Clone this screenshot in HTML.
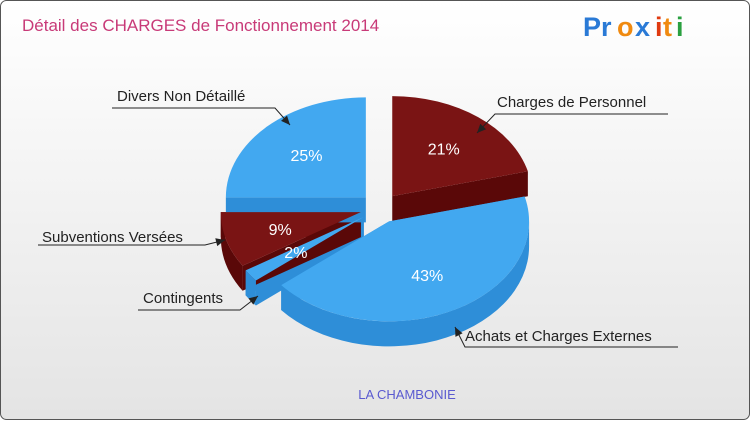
<!DOCTYPE html>
<html><head><meta charset="utf-8"><style>
body{margin:0;width:750px;height:420px;overflow:hidden;font-family:"Liberation Sans",sans-serif}
</style></head><body>
<svg width="750" height="420" xmlns="http://www.w3.org/2000/svg">
<defs><linearGradient id="bg" x1="0" y1="0" x2="0" y2="1"><stop offset="0" stop-color="#ffffff"/><stop offset="1" stop-color="#e4e4e4"/></linearGradient></defs>
<rect x="0.5" y="0.5" width="749" height="419" rx="6" fill="url(#bg)" stroke="#555"/>
<text x="22" y="31" font-size="17" fill="#c83a78">Détail des CHARGES de Fonctionnement 2014</text>
<g font-size="27" font-weight="bold" font-family="'Liberation Sans',sans-serif">
<text x="583" y="36" fill="#2a7ad6">Pr</text><text x="617" y="36" fill="#f08a10">o</text><text x="635" y="36" fill="#2a7ad6">x</text><text x="655" y="36" fill="#e03a10">i</text><text x="663" y="36" fill="#f08a10">t</text><text x="676" y="36" fill="#2aa040">i</text>
</g>
<g id="pie"></g>
<g id="lbl" font-size="15" fill="#222"></g>
<text x="407" y="399" font-size="13" fill="#5a5ad0" text-anchor="middle">LA CHAMBONIE</text>
</svg>
<script>
const categories=["Charges de Personnel","Achats et Charges Externes","Contingents","Subventions Versées","Divers Non Détaillé"];
const values=[21,43,2,9,25];
const colors=["#7a1414","#42a8f0","#42a8f0","#7a1414","#42a8f0"];
const sides=["#5a0808","#2e8ed8","#2e8ed8","#5a0808","#2e8ed8"];
const NS="http://www.w3.org/2000/svg";
const cx=380,cy=208,rx=140,ry=100,depth=25,ex=20;
const g=document.getElementById('pie');
const total=values.reduce((a,b)=>a+b,0);
function pt(a,ox,oy,d){return [cx+ox+rx*Math.cos(a),cy+oy+ry*Math.sin(a)+(d||0)];}
const sl=[];let st=-Math.PI/2;
values.forEach((v,i)=>{const sw=v/total*2*Math.PI;const m=st+sw/2;sl.push({s:st,e:st+sw,m,ox:Math.cos(m)*ex,oy:Math.sin(m)*ex*0.75,i});st+=sw;});
function mk(d,fill,name){const p=document.createElementNS(NS,'path');p.setAttribute('d',d);p.setAttribute('fill',fill);


g.appendChild(p);}
sl.forEach(s=>{
  const c=[cx+s.ox,cy+s.oy];
  [s.s,s.e].forEach(a=>{const p=pt(a,s.ox,s.oy);mk(`M${c[0]},${c[1]}L${p[0]},${p[1]}L${p[0]},${p[1]+depth}L${c[0]},${c[1]+depth}Z`,sides[s.i],'slice-wall-'+s.i);});
});
sl.forEach(s=>{
  const segs=[[0,Math.PI],[2*Math.PI,3*Math.PI]];
  segs.forEach(([a0,b0])=>{const a=Math.max(s.s,a0),b=Math.min(s.e,b0);if(b<=a)return;
    const p1=pt(a,s.ox,s.oy),p2=pt(b,s.ox,s.oy);
    mk(`M${p1[0]},${p1[1]}A${rx},${ry} 0 0 1 ${p2[0]},${p2[1]}L${p2[0]},${p2[1]+depth}A${rx},${ry} 0 0 0 ${p1[0]},${p1[1]+depth}Z`,sides[s.i],'slice-side-'+s.i);});
});
sl.forEach(s=>{
  const p1=pt(s.s,s.ox,s.oy),p2=pt(s.e,s.ox,s.oy);const large=(s.e-s.s)>Math.PI?1:0;
  mk(`M${cx+s.ox},${cy+s.oy}L${p1[0]},${p1[1]}A${rx},${ry} 0 ${large} 1 ${p2[0]},${p2[1]}Z`,colors[s.i],'slice-'+s.i);
  const t=document.createElementNS(NS,'text');const r=0.6;
  t.setAttribute('x',cx+s.ox+rx*r*Math.cos(s.m));t.setAttribute('y',cy+s.oy+ry*r*Math.sin(s.m)+6);
  t.setAttribute('fill','#fff');t.setAttribute('font-size','16');t.setAttribute('text-anchor','middle');
  
  
  t.textContent=values[s.i]+'%';g.appendChild(t);
});
const L=document.getElementById('lbl');
const lab=[[0,497,107,"start",[[668,114],[495,114],[477,133]]],[1,465,341,"start",[[678,347],[465,347],[455,327]]],[2,143,303,"start",[[138,310],[240,310],[258,296]]],[3,42,242,"start",[[38,245],[205,245],[225,240]]],[4,117,101,"start",[[112,108],[275,108],[290,125]]]];
lab.forEach(([i,x,y,an,pts])=>{
  const pl=document.createElementNS(NS,'polyline');pl.setAttribute('points',pts.map(p=>p.join(',')).join(' '));
  pl.setAttribute('fill','none');pl.setAttribute('stroke','#222');
  
  
  L.appendChild(pl);
  const a=pts[2],b=pts[1];const ang=Math.atan2(a[1]-b[1],a[0]-b[0]);
  const h=document.createElementNS(NS,'polygon');
  const p=(d,o)=>[a[0]-Math.cos(ang)*d+Math.cos(ang+Math.PI/2)*o,a[1]-Math.sin(ang)*d+Math.sin(ang+Math.PI/2)*o];
  h.setAttribute('points',[a,p(9,4),p(9,-4)].map(q=>q.join(',')).join(' '));h.setAttribute('fill','#222');
  
  
  L.appendChild(h);
  const t=document.createElementNS(NS,'text');t.setAttribute('x',x);t.setAttribute('y',y);t.textContent=categories[i];
  
  
  L.appendChild(t);
});
</script>
</body></html>
